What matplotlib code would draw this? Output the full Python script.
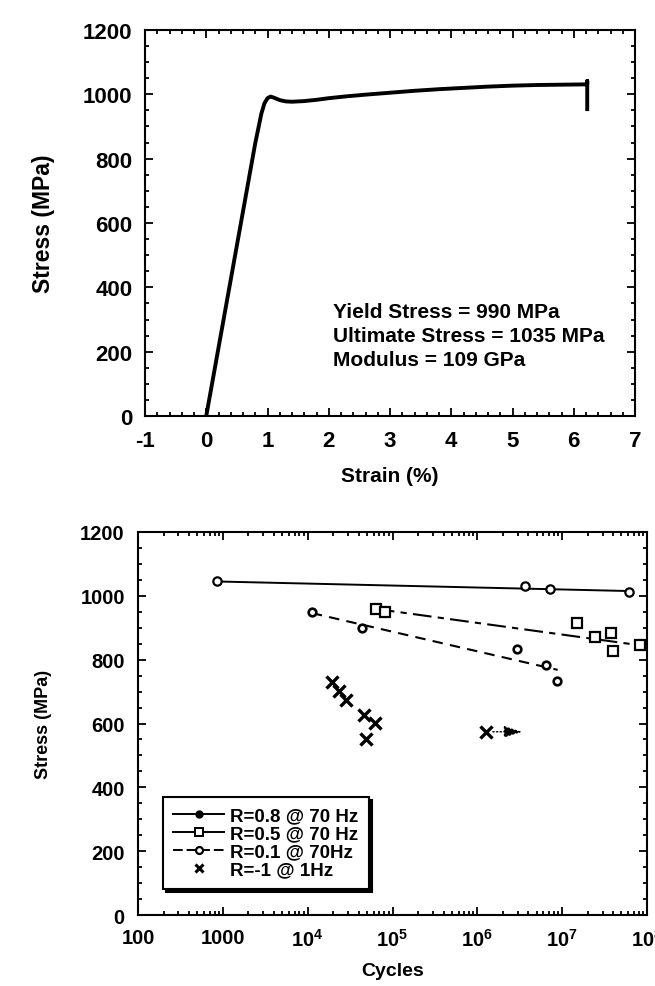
import numpy as np
import matplotlib
matplotlib.use("Agg")
import matplotlib.pyplot as plt
from matplotlib.lines import Line2D
from matplotlib.ticker import MultipleLocator, LogLocator, FuncFormatter, NullFormatter

plt.rcParams['font.family'] = ['Liberation Sans', 'DejaVu Sans']
plt.rcParams['font.weight'] = 'bold'
plt.rcParams['axes.unicode_minus'] = False
plt.rcParams['mathtext.fontset'] = 'custom'
plt.rcParams['mathtext.rm'] = 'Liberation Sans:bold'
plt.rcParams['mathtext.bf'] = 'Liberation Sans:bold'
plt.rcParams['mathtext.default'] = 'bf'

# --- tensile test curve (top panel)
strain = [0, 0.3, 0.6, 0.8, 0.9, 0.95, 1.0, 1.05, 1.1, 1.2, 1.3, 1.4, 1.6, 1.8,
          2.0, 2.3, 2.6, 3.0, 3.4, 3.8, 4.2, 4.6, 5.0, 5.4, 5.8, 6.22, 6.22, 6.22]
stress = [0, 318, 636, 848, 940, 972, 988, 993, 990, 982, 978, 977, 979, 983,
          988, 994, 999, 1005, 1011, 1016, 1020, 1024, 1027, 1029, 1030, 1031, 1042, 954]
props_text = ["Yield Stress = 990 MPa", "Ultimate Stress = 1035 MPa", "Modulus = 109 GPa"]
props_y = [309, 234, 159]

# --- fatigue data (bottom panel)
r08_cycles = [850, 3.64e6, 7.2e6, 6.2e7]
r08_stress = [1045, 1032, 1022, 1013]
r08_fit_cycles = [850, 6.2e7]
r08_fit_stress = [1045, 1015]

r05_cycles = [6.35e4, 8.2e4, 1.5e7, 2.47e7, 3.72e7, 3.96e7, 8.17e7]
r05_stress = [960, 948, 915, 872, 884, 826, 846]
r05_fit_cycles = [6.35e4, 1e8]
r05_fit_stress = [959, 842]

r01_cycles = [1.12e4, 4.4e4, 2.96e6, 6.4e6, 8.7e6]
r01_stress = [949, 898, 833, 783, 733]
r01_fit_cycles = [1.12e4, 8.85e6]
r01_fit_stress = [946, 768]

rm1_cycles = [1.94e4, 2.33e4, 2.84e4, 4.57e4, 6.24e4, 4.92e4, 1.26e6]
rm1_stress = [731, 702, 675, 627, 602, 551, 574]
runout_cycles = [1.26e6, 3.37e6]
runout_stress = [574, 574]

labels = ["R=0.8 @ 70 Hz", "R=0.5 @ 70 Hz", "R=0.1 @ 70Hz", "R=-1 @ 1Hz"]

fig = plt.figure(figsize=(6.55, 9.87), dpi=100)

# ---------------- top panel
ax1 = fig.add_axes([145 / 655, 1 - 417 / 987, 490 / 655, 386 / 987])
ax1.plot(strain, stress, color='black', lw=2.8, solid_joinstyle='round')
ax1.set_xlim(-1, 7)
ax1.set_ylim(0, 1200)
ax1.xaxis.set_major_locator(MultipleLocator(1))
ax1.xaxis.set_minor_locator(MultipleLocator(0.2))
ax1.yaxis.set_major_locator(MultipleLocator(200))
ax1.yaxis.set_minor_locator(MultipleLocator(50))
ax1.tick_params(which='both', direction='in', top=True, right=True, width=1.3)
ax1.tick_params(which='major', length=6, labelsize=16)
ax1.tick_params(which='minor', length=3)
ax1.tick_params(axis='y', pad=9)
ax1.tick_params(axis='x', pad=10)
for s in ax1.spines.values():
    s.set_linewidth(1.5)
ax1.set_xlabel("Strain (%)", fontsize=15, fontweight='bold', labelpad=11)
ax1.set_ylabel("Stress (MPa)", fontsize=16.5, fontweight='bold', labelpad=20)
for txt, yy in zip(props_text, props_y):
    ax1.text(2.07, yy, txt, fontsize=15, fontweight='bold', va='baseline', ha='left')

# ---------------- bottom panel
ax2 = fig.add_axes([138 / 655, 1 - 916 / 987, 509 / 655, 383 / 987])
ax2.set_xscale('log')
ax2.plot(r08_fit_cycles, r08_fit_stress, color='black', lw=1.4)
ax2.plot(r08_cycles, r08_stress, ls='none', marker='o', ms=6, mfc='white', mec='black', mew=1.6)

ax2.plot(r05_fit_cycles, r05_fit_stress, color='black', lw=1.5, dashes=(9, 3, 3, 3))
ax2.plot(r05_cycles, r05_stress, ls='none', marker='s', ms=7.5, mfc='white', mec='black', mew=1.6)

ax2.plot(r01_fit_cycles, r01_fit_stress, color='black', lw=1.5, dashes=(5, 3.5))
ax2.plot(r01_cycles, r01_stress, ls='none', marker='o', ms=5.5, mfc='white', mec='black', mew=1.9)

ax2.plot(rm1_cycles, rm1_stress, ls='none', marker='x', ms=8, mec='black', mew=2.4)
ax2.annotate("", xy=(runout_cycles[1], runout_stress[1]),
             xytext=(runout_cycles[0], runout_stress[0]),
             arrowprops=dict(arrowstyle='-|>,head_length=1.1,head_width=0.35',
                             color='black', lw=1.0, ls=':', shrinkA=5, shrinkB=0,
                             mutation_scale=10))

ax2.set_xlim(100, 1e8)
ax2.set_ylim(0, 1200)
ax2.xaxis.set_major_locator(LogLocator(base=10, numticks=10))
ax2.xaxis.set_minor_locator(LogLocator(base=10, subs=np.arange(2, 10), numticks=20))
ax2.xaxis.set_minor_formatter(NullFormatter())


def cyc_fmt(v, pos):
    e = int(round(np.log10(v)))
    if e <= 3:
        return "%d" % v
    return r"$10^{%d}$" % e


ax2.xaxis.set_major_formatter(FuncFormatter(cyc_fmt))
ax2.yaxis.set_major_locator(MultipleLocator(200))
ax2.yaxis.set_minor_locator(MultipleLocator(50))
ax2.tick_params(which='both', direction='in', top=True, right=True, width=1.3)
ax2.tick_params(which='major', length=6, labelsize=14.5)
ax2.tick_params(which='minor', length=3)
ax2.tick_params(axis='y', pad=9.5)
ax2.tick_params(axis='x', pad=9)
for s in ax2.spines.values():
    s.set_linewidth(1.5)
ax2.set_xlabel("Cycles", fontsize=14, fontweight='bold', labelpad=9)
ax2.set_ylabel("Stress (MPa)", fontsize=13, fontweight='bold', labelpad=20)

handles = [
    Line2D([], [], color='black', lw=1.4, marker='o', ms=5, mfc='black', mec='black'),
    Line2D([], [], color='black', lw=1.4, marker='s', ms=6, mfc='white', mec='black', mew=1.4),
    Line2D([], [], color='black', lw=1.4, marker='o', ms=5, mfc='white', mec='black', mew=1.6, dashes=(5, 2)),
    Line2D([], [], ls='none', marker='x', ms=6, mec='black', mew=2.2),
]
leg = ax2.legend(handles, labels, loc='lower left', bbox_to_anchor=(0.049, 0.068),
                 borderaxespad=0, fancybox=False, shadow={'color': 'black', 'alpha': 1},
                 edgecolor='black', framealpha=1, handlelength=2.7, handletextpad=0.35,
                 labelspacing=0.05, borderpad=0.55, prop={'size': 13.5, 'weight': 'bold'})
leg.get_frame().set_linewidth(1.5)

fig.savefig("out.png", dpi=100)
